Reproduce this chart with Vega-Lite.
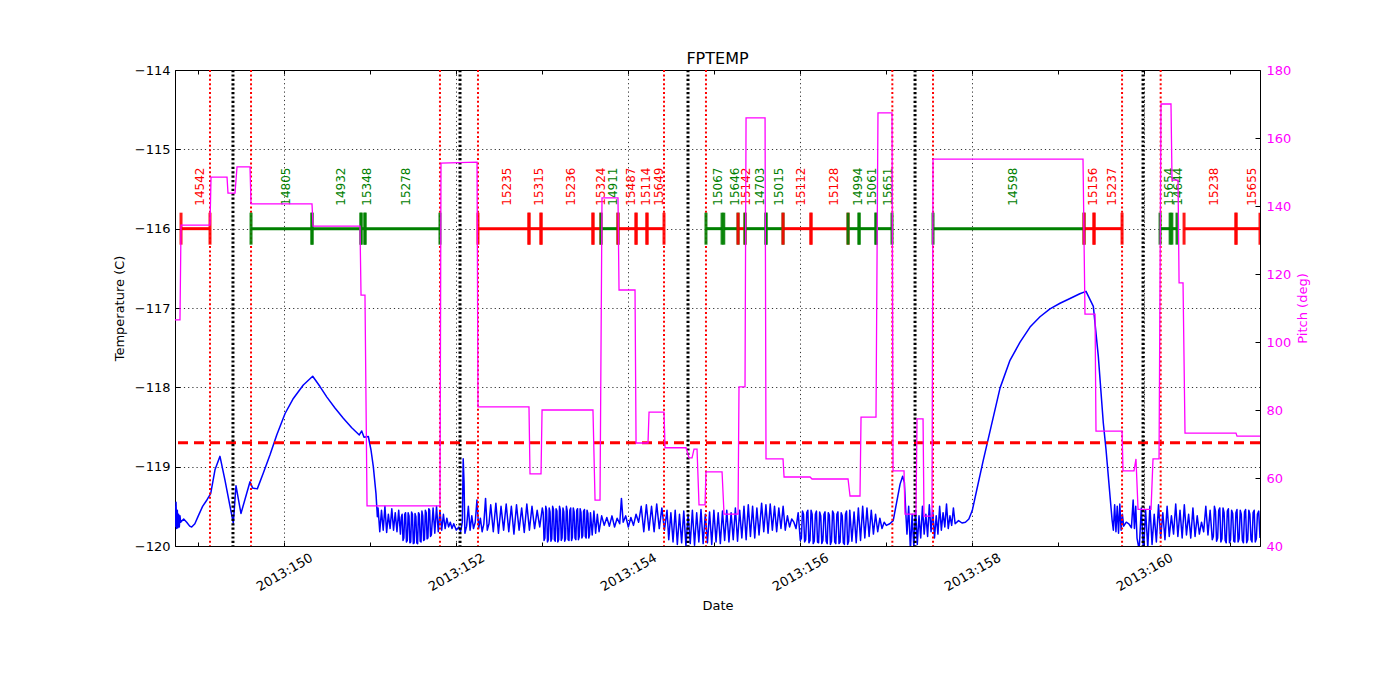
{
  "$schema": "https://vega.github.io/schema/vega-lite/v6.json",
  "width": 1085,
  "height": 476,
  "autosize": {"type": "none"},
  "padding": {"left": 175, "top": 70, "right": 140, "bottom": 154},
  "background": "white",
  "title": {"text": "FPTEMP", "fontSize": 16, "font": "DejaVu Sans", "fontWeight": "normal", "baseline": "alphabetic", "offset": -16, "color": "black"},
  "datasets": {
    "temp": [
      {"t":148.729,"v":-119.50},{"t":148.735,"v":-119.75},{"t":148.741,"v":-119.45},{"t":148.748,"v":-119.78},{"t":148.756,"v":-119.55},{"t":148.763,"v":-119.77},{"t":148.771,"v":-119.60},{"t":148.779,"v":-119.76},{"t":148.787,"v":-119.62},{"t":148.795,"v":-119.70},{"t":148.83,"v":-119.66},{"t":148.865,"v":-119.70},{"t":148.90,"v":-119.75},{"t":148.923,"v":-119.76},{"t":148.96,"v":-119.72},{"t":149.00,"v":-119.62},{"t":149.05,"v":-119.50},{"t":149.10,"v":-119.42},{"t":149.144,"v":-119.34},{"t":149.194,"v":-119.04},{"t":149.252,"v":-118.87},{"t":149.31,"v":-119.17},{"t":149.369,"v":-119.50},{"t":149.407,"v":-119.71},{"t":149.438,"v":-119.24},{"t":149.496,"v":-119.59},{"t":149.601,"v":-119.19},{"t":149.632,"v":-119.27},{"t":149.686,"v":-119.28},{"t":149.756,"v":-119.08},{"t":149.834,"v":-118.85},{"t":149.912,"v":-118.60},{"t":150.009,"v":-118.33},{"t":150.105,"v":-118.14},{"t":150.221,"v":-117.97},{"t":150.33,"v":-117.86},{"t":150.415,"v":-117.99},{"t":150.493,"v":-118.12},{"t":150.589,"v":-118.26},{"t":150.686,"v":-118.39},{"t":150.784,"v":-118.51},{"t":150.872,"v":-118.60},{"t":150.90,"v":-118.55},{"t":150.927,"v":-118.63},{"t":150.977,"v":-118.62},{"t":151.008,"v":-118.79},{"t":151.035,"v":-119.00},{"t":151.066,"v":-119.34},{"t":151.082,"v":-119.63},
      {"t":151.09,"v":-119.52},{"t":151.11,"v":-119.82},{"t":151.13,"v":-119.55},{"t":151.15,"v":-119.80},{"t":151.17,"v":-119.50},{"t":151.19,"v":-119.83},{"t":151.21,"v":-119.60},{"t":151.23,"v":-119.78},{"t":151.25,"v":-119.53},{"t":151.27,"v":-119.80},{"t":151.29,"v":-119.58},{"t":151.31,"v":-119.82},{"t":151.33,"v":-119.55},{"t":151.35,"v":-119.85},{"t":151.36,"v":-119.64},{"t":151.37,"v":-119.60},{"t":151.38,"v":-119.93},{"t":151.39,"v":-119.90},{"t":151.40,"v":-119.60},{"t":151.41,"v":-119.58},{"t":151.42,"v":-119.95},{"t":151.43,"v":-119.93},{"t":151.44,"v":-119.58},{"t":151.45,"v":-119.62},{"t":151.46,"v":-119.96},{"t":151.47,"v":-119.95},{"t":151.48,"v":-119.57},{"t":151.49,"v":-119.60},{"t":151.50,"v":-119.97},{"t":151.51,"v":-119.96},{"t":151.52,"v":-119.59},{"t":151.53,"v":-119.63},{"t":151.54,"v":-119.96},{"t":151.55,"v":-119.97},{"t":151.56,"v":-119.58},{"t":151.57,"v":-119.60},{"t":151.58,"v":-119.94},{"t":151.59,"v":-119.95},{"t":151.60,"v":-119.56},{"t":151.61,"v":-119.62},{"t":151.62,"v":-119.93},{"t":151.63,"v":-119.92},{"t":151.64,"v":-119.55},{"t":151.65,"v":-119.58},{"t":151.66,"v":-119.91},{"t":151.67,"v":-119.90},{"t":151.68,"v":-119.53},{"t":151.69,"v":-119.55},{"t":151.70,"v":-119.88},{"t":151.71,"v":-119.86},{"t":151.73,"v":-119.52},{"t":151.75,"v":-119.84},{"t":151.77,"v":-119.50},{"t":151.79,"v":-119.82},{"t":151.81,"v":-119.55},{"t":151.83,"v":-119.80},{"t":151.85,"v":-119.60},{"t":151.87,"v":-119.78},{"t":151.89,"v":-119.65},{"t":151.91,"v":-119.76},{"t":151.93,"v":-119.70},{"t":151.95,"v":-119.78},{"t":151.97,"v":-119.72},{"t":152.00,"v":-119.80},{"t":152.03,"v":-119.76},{"t":152.05,"v":-119.82},{"t":152.07,"v":-119.70},{"t":152.08,"v":-118.90},{"t":152.09,"v":-119.20},{"t":152.10,"v":-119.84},{"t":152.12,"v":-119.75},{"t":152.14,"v":-119.50},{"t":152.16,"v":-119.80},{"t":152.18,"v":-119.62},{"t":152.20,"v":-119.78},{"t":152.22,"v":-119.70},{"t":152.24,"v":-119.42},{"t":152.26,"v":-119.78},{"t":152.28,"v":-119.65},{"t":152.30,"v":-119.82},{"t":152.32,"v":-119.72},{"t":152.34,"v":-119.40},{"t":152.36,"v":-119.80},{"t":152.38,"v":-119.72},
      {"t":152.40,"v":-119.48},{"t":152.43,"v":-119.82},{"t":152.46,"v":-119.46},{"t":152.49,"v":-119.84},{"t":152.52,"v":-119.50},{"t":152.55,"v":-119.80},{"t":152.58,"v":-119.47},{"t":152.61,"v":-119.82},{"t":152.64,"v":-119.50},{"t":152.67,"v":-119.85},{"t":152.70,"v":-119.48},{"t":152.73,"v":-119.80},{"t":152.76,"v":-119.52},{"t":152.79,"v":-119.83},{"t":152.82,"v":-119.47},{"t":152.85,"v":-119.80},{"t":152.88,"v":-119.50},{"t":152.91,"v":-119.78},{"t":152.94,"v":-119.55},{"t":152.97,"v":-119.76},
      {"t":153.00,"v":-119.52},{"t":153.01,"v":-119.58},{"t":153.02,"v":-119.93},{"t":153.03,"v":-119.90},{"t":153.04,"v":-119.50},{"t":153.05,"v":-119.55},{"t":153.06,"v":-119.95},{"t":153.07,"v":-119.92},{"t":153.08,"v":-119.52},{"t":153.09,"v":-119.57},{"t":153.10,"v":-119.94},{"t":153.11,"v":-119.91},{"t":153.12,"v":-119.50},{"t":153.13,"v":-119.54},{"t":153.14,"v":-119.92},{"t":153.15,"v":-119.94},{"t":153.16,"v":-119.53},{"t":153.17,"v":-119.56},{"t":153.18,"v":-119.95},{"t":153.19,"v":-119.92},{"t":153.20,"v":-119.50},{"t":153.21,"v":-119.55},{"t":153.22,"v":-119.93},{"t":153.23,"v":-119.90},{"t":153.24,"v":-119.52},{"t":153.25,"v":-119.57},{"t":153.26,"v":-119.94},{"t":153.27,"v":-119.91},{"t":153.28,"v":-119.50},{"t":153.29,"v":-119.56},{"t":153.30,"v":-119.92},{"t":153.31,"v":-119.93},{"t":153.32,"v":-119.55},{"t":153.33,"v":-119.52},{"t":153.34,"v":-119.93},{"t":153.35,"v":-119.89},{"t":153.36,"v":-119.52},{"t":153.37,"v":-119.57},{"t":153.38,"v":-119.90},{"t":153.39,"v":-119.92},{"t":153.40,"v":-119.55},{"t":153.41,"v":-119.53},{"t":153.42,"v":-119.92},{"t":153.43,"v":-119.88},{"t":153.44,"v":-119.53},{"t":153.45,"v":-119.58},{"t":153.46,"v":-119.90},{"t":153.47,"v":-119.87},{"t":153.48,"v":-119.56},{"t":153.49,"v":-119.54},{"t":153.50,"v":-119.88},{"t":153.51,"v":-119.90},{"t":153.52,"v":-119.55},{"t":153.53,"v":-119.59},{"t":153.54,"v":-119.90},{"t":153.55,"v":-119.86},{"t":153.56,"v":-119.58},{"t":153.58,"v":-119.86},{"t":153.60,"v":-119.56},{"t":153.62,"v":-119.84},{"t":153.64,"v":-119.60},{"t":153.66,"v":-119.82},
      {"t":153.69,"v":-119.62},{"t":153.72,"v":-119.74},{"t":153.75,"v":-119.64},{"t":153.78,"v":-119.75},{"t":153.81,"v":-119.62},{"t":153.84,"v":-119.76},{"t":153.87,"v":-119.65},{"t":153.90,"v":-119.72},{"t":153.92,"v":-119.40},{"t":153.94,"v":-119.70},{"t":153.97,"v":-119.62},{"t":154.00,"v":-119.76},{"t":154.03,"v":-119.64},{"t":154.06,"v":-119.74},{"t":154.09,"v":-119.60},{"t":154.12,"v":-119.70},
      {"t":154.15,"v":-119.50},{"t":154.18,"v":-119.82},{"t":154.21,"v":-119.48},{"t":154.24,"v":-119.80},{"t":154.27,"v":-119.50},{"t":154.30,"v":-119.82},{"t":154.33,"v":-119.47},{"t":154.36,"v":-119.78},{"t":154.39,"v":-119.52},{"t":154.42,"v":-119.80},{"t":154.45,"v":-119.55},
      {"t":154.47,"v":-119.92},{"t":154.495,"v":-119.58},{"t":154.52,"v":-119.95},{"t":154.545,"v":-119.55},{"t":154.57,"v":-119.98},{"t":154.595,"v":-119.60},{"t":154.62,"v":-119.96},{"t":154.645,"v":-119.56},{"t":154.67,"v":-120.00},{"t":154.695,"v":-119.60},{"t":154.72,"v":-119.97},{"t":154.745,"v":-119.55},{"t":154.77,"v":-119.99},{"t":154.795,"v":-119.58},{"t":154.82,"v":-119.95},{"t":154.845,"v":-119.54},{"t":154.87,"v":-119.97},{"t":154.895,"v":-119.60},{"t":154.92,"v":-119.96},{"t":154.945,"v":-119.57},{"t":154.97,"v":-119.98},{"t":154.995,"v":-119.55},{"t":155.02,"v":-119.95},{"t":155.045,"v":-119.58},{"t":155.07,"v":-119.97},{"t":155.095,"v":-119.56},{"t":155.12,"v":-119.93},{"t":155.145,"v":-119.55},{"t":155.17,"v":-119.95},{"t":155.195,"v":-119.58},{"t":155.22,"v":-119.92},{"t":155.245,"v":-119.52},{"t":155.27,"v":-119.94},{"t":155.295,"v":-119.55},{"t":155.32,"v":-119.90},{"t":155.345,"v":-119.50},{"t":155.37,"v":-119.92},{"t":155.395,"v":-119.48},{"t":155.42,"v":-119.88},{"t":155.445,"v":-119.50},{"t":155.47,"v":-119.90},{"t":155.495,"v":-119.52},{"t":155.52,"v":-119.86},
      {"t":155.55,"v":-119.46},{"t":155.575,"v":-119.82},{"t":155.60,"v":-119.48},{"t":155.625,"v":-119.84},{"t":155.65,"v":-119.47},{"t":155.675,"v":-119.80},{"t":155.70,"v":-119.50},{"t":155.725,"v":-119.82},{"t":155.75,"v":-119.52},{"t":155.775,"v":-119.78},{"t":155.80,"v":-119.50},{"t":155.825,"v":-119.80},{"t":155.85,"v":-119.62},{"t":155.875,"v":-119.76},{"t":155.90,"v":-119.66},{"t":155.925,"v":-119.70},{"t":155.95,"v":-119.78},
      {"t":155.975,"v":-119.58},{"t":156.00,"v":-119.93},{"t":156.0125,"v":-119.90},{"t":156.025,"v":-119.56},{"t":156.0375,"v":-119.60},{"t":156.05,"v":-119.95},{"t":156.0625,"v":-119.92},{"t":156.075,"v":-119.58},{"t":156.0875,"v":-119.55},{"t":156.10,"v":-119.96},{"t":156.1125,"v":-119.93},{"t":156.125,"v":-119.55},{"t":156.1375,"v":-119.60},{"t":156.15,"v":-119.97},{"t":156.1625,"v":-119.94},{"t":156.175,"v":-119.60},{"t":156.1875,"v":-119.56},{"t":156.20,"v":-119.95},{"t":156.2125,"v":-119.96},{"t":156.225,"v":-119.57},{"t":156.2375,"v":-119.62},{"t":156.25,"v":-119.97},{"t":156.2625,"v":-119.93},{"t":156.275,"v":-119.60},{"t":156.2875,"v":-119.57},{"t":156.30,"v":-119.94},{"t":156.3125,"v":-119.97},{"t":156.325,"v":-119.58},{"t":156.3375,"v":-119.61},{"t":156.35,"v":-119.98},{"t":156.3625,"v":-119.94},{"t":156.375,"v":-119.56},{"t":156.3875,"v":-119.59},{"t":156.40,"v":-119.95},{"t":156.4125,"v":-119.97},{"t":156.425,"v":-119.60},{"t":156.4375,"v":-119.57},{"t":156.45,"v":-119.97},{"t":156.4625,"v":-119.95},{"t":156.475,"v":-119.58},{"t":156.4875,"v":-119.62},{"t":156.50,"v":-119.96},{"t":156.5125,"v":-119.98},{"t":156.525,"v":-119.60},{"t":156.5375,"v":-119.56},{"t":156.55,"v":-119.98},{"t":156.5625,"v":-119.94},{"t":156.575,"v":-119.55},{"t":156.60,"v":-119.94},{"t":156.625,"v":-119.57},{"t":156.65,"v":-119.96},{"t":156.675,"v":-119.52},{"t":156.70,"v":-119.93},{"t":156.725,"v":-119.50},{"t":156.75,"v":-119.90},{"t":156.775,"v":-119.52},{"t":156.80,"v":-119.88},{"t":156.825,"v":-119.55},{"t":156.85,"v":-119.85},{"t":156.875,"v":-119.60},{"t":156.90,"v":-119.82},{"t":156.925,"v":-119.65},{"t":156.95,"v":-119.78},{"t":156.975,"v":-119.70},
      {"t":157.00,"v":-119.74},{"t":157.04,"v":-119.72},{"t":157.08,"v":-119.68},{"t":157.12,"v":-119.45},{"t":157.16,"v":-119.22},{"t":157.19,"v":-119.12},{"t":157.21,"v":-119.20},{"t":157.23,"v":-119.65},{"t":157.24,"v":-119.85},
      {"t":157.26,"v":-119.50},{"t":157.28,"v":-120.05},{"t":157.30,"v":-119.60},{"t":157.32,"v":-120.02},{"t":157.34,"v":-119.55},{"t":157.36,"v":-119.98},{"t":157.38,"v":-119.62},{"t":157.40,"v":-119.90},{"t":157.42,"v":-119.50},{"t":157.44,"v":-119.85},{"t":157.46,"v":-119.60},{"t":157.48,"v":-119.88},{"t":157.50,"v":-119.48},{"t":157.52,"v":-119.82},{"t":157.54,"v":-119.55},{"t":157.56,"v":-119.90},{"t":157.58,"v":-119.62},{"t":157.60,"v":-119.85},{"t":157.62,"v":-119.50},{"t":157.64,"v":-119.80},{"t":157.66,"v":-119.58},{"t":157.68,"v":-119.76},{"t":157.70,"v":-119.47},{"t":157.72,"v":-119.78},{"t":157.74,"v":-119.62},{"t":157.76,"v":-119.74},{"t":157.78,"v":-119.52},{"t":157.80,"v":-119.72},
      {"t":157.84,"v":-119.68},{"t":157.88,"v":-119.71},{"t":157.92,"v":-119.70},{"t":157.96,"v":-119.66},{"t":158.00,"v":-119.55},{"t":158.05,"v":-119.30},{"t":158.127,"v":-118.92},{"t":158.20,"v":-118.58},{"t":158.322,"v":-118.01},{"t":158.438,"v":-117.66},{"t":158.555,"v":-117.43},{"t":158.671,"v":-117.24},{"t":158.787,"v":-117.11},{"t":158.903,"v":-117.01},{"t":159.02,"v":-116.94},{"t":159.136,"v":-116.88},{"t":159.25,"v":-116.82},{"t":159.322,"v":-116.79},{"t":159.407,"v":-116.98},{"t":159.465,"v":-117.61},{"t":159.523,"v":-118.45},{"t":159.555,"v":-118.79},{"t":159.625,"v":-119.67},
      {"t":159.64,"v":-119.80},{"t":159.655,"v":-119.48},{"t":159.67,"v":-119.82},{"t":159.685,"v":-119.50},{"t":159.70,"v":-119.84},{"t":159.715,"v":-119.47},{"t":159.73,"v":-119.80},{"t":159.745,"v":-119.60},{"t":159.76,"v":-119.75},{"t":159.79,"v":-119.70},{"t":159.82,"v":-119.72},{"t":159.85,"v":-119.77},{"t":159.87,"v":-119.42},{"t":159.885,"v":-119.78},{"t":159.90,"v":-119.50},{"t":159.915,"v":-119.90},
      {"t":159.94,"v":-120.05},{"t":159.965,"v":-119.52},{"t":159.99,"v":-120.08},{"t":160.015,"v":-119.55},{"t":160.04,"v":-120.02},{"t":160.065,"v":-119.50},{"t":160.09,"v":-119.98},{"t":160.115,"v":-119.60},{"t":160.14,"v":-119.95},{"t":160.165,"v":-119.48},{"t":160.19,"v":-119.90},{"t":160.215,"v":-119.58},{"t":160.24,"v":-119.92},{"t":160.265,"v":-119.50},{"t":160.29,"v":-119.88},{"t":160.315,"v":-119.62},{"t":160.34,"v":-119.85},{"t":160.365,"v":-119.47},{"t":160.39,"v":-119.88},{"t":160.415,"v":-119.55},{"t":160.44,"v":-119.90},{"t":160.465,"v":-119.48},{"t":160.49,"v":-119.86},{"t":160.515,"v":-119.60},{"t":160.54,"v":-119.90},{"t":160.565,"v":-119.52},{"t":160.59,"v":-119.88},{"t":160.615,"v":-119.62},{"t":160.64,"v":-119.85},{"t":160.665,"v":-119.70},{"t":160.69,"v":-119.82},{"t":160.715,"v":-119.50},{"t":160.74,"v":-119.86},{"t":160.765,"v":-119.55},{"t":160.79,"v":-119.92},{"t":160.8025,"v":-119.88},{"t":160.815,"v":-119.50},{"t":160.8275,"v":-119.56},{"t":160.84,"v":-119.94},{"t":160.8525,"v":-119.90},{"t":160.865,"v":-119.55},{"t":160.8775,"v":-119.52},{"t":160.89,"v":-119.95},{"t":160.9025,"v":-119.91},{"t":160.915,"v":-119.52},{"t":160.9275,"v":-119.58},{"t":160.94,"v":-119.93},{"t":160.9525,"v":-119.96},{"t":160.965,"v":-119.56},{"t":160.9775,"v":-119.53},{"t":160.99,"v":-119.96},{"t":161.0025,"v":-119.92},{"t":161.015,"v":-119.55},{"t":161.0275,"v":-119.59},{"t":161.04,"v":-119.94},{"t":161.0525,"v":-119.95},{"t":161.065,"v":-119.58},{"t":161.0775,"v":-119.54},{"t":161.09,"v":-119.95},{"t":161.1025,"v":-119.91},{"t":161.115,"v":-119.55},{"t":161.1275,"v":-119.60},{"t":161.14,"v":-119.93},{"t":161.1525,"v":-119.96},{"t":161.165,"v":-119.57},{"t":161.1775,"v":-119.54},{"t":161.19,"v":-119.96},{"t":161.2025,"v":-119.92},{"t":161.215,"v":-119.55},{"t":161.2275,"v":-119.60},{"t":161.24,"v":-119.92},{"t":161.2525,"v":-119.95},{"t":161.265,"v":-119.58},{"t":161.2775,"v":-119.55},{"t":161.29,"v":-119.95},{"t":161.3025,"v":-119.91},{"t":161.315,"v":-119.60},{"t":161.33,"v":-119.56},{"t":161.345,"v":-119.90}
    ],
    "pitch": [
      {"t":148.729,"p":106.5},{"t":148.787,"p":106.5},{"t":148.799,"p":134.4},{"t":149.136,"p":134.4},{"t":149.148,"p":148.5},{"t":149.334,"p":148.5},{"t":149.345,"p":143.8},{"t":149.427,"p":143.8},{"t":149.45,"p":151.5},{"t":149.601,"p":151.5},{"t":149.613,"p":140.6},{"t":150.322,"p":140.6},{"t":150.334,"p":134.1},{"t":150.88,"p":134.1},{"t":150.892,"p":113.8},{"t":150.938,"p":113.8},{"t":150.962,"p":51.8},{"t":151.81,"p":51.8},{"t":151.822,"p":152.6},{"t":152.241,"p":152.9},{"t":152.252,"p":80.9},{"t":152.845,"p":80.9},{"t":152.857,"p":61.2},{"t":152.985,"p":61.2},{"t":152.997,"p":80.0},{"t":153.589,"p":80.0},{"t":153.613,"p":53.5},{"t":153.671,"p":53.5},{"t":153.694,"p":142.4},{"t":153.88,"p":142.4},{"t":153.892,"p":115.3},{"t":154.078,"p":115.3},{"t":154.09,"p":70.3},{"t":154.229,"p":70.3},{"t":154.241,"p":79.4},{"t":154.415,"p":79.4},{"t":154.427,"p":68.9},{"t":154.671,"p":68.9},{"t":154.706,"p":65.9},{"t":154.741,"p":65.9},{"t":154.764,"p":68.5},{"t":154.799,"p":68.5},{"t":154.822,"p":52.1},{"t":154.892,"p":52.1},{"t":154.903,"p":61.8},{"t":155.09,"p":61.8},{"t":155.113,"p":49.4},{"t":155.276,"p":49.4},{"t":155.287,"p":86.8},{"t":155.357,"p":86.8},{"t":155.369,"p":165.9},{"t":155.59,"p":165.9},{"t":155.601,"p":65.6},{"t":155.799,"p":65.6},{"t":155.811,"p":60.3},{"t":156.113,"p":60.3},{"t":156.136,"p":59.7},{"t":156.555,"p":59.7},{"t":156.578,"p":54.7},{"t":156.694,"p":54.7},{"t":156.706,"p":77.9},{"t":156.88,"p":77.9},{"t":156.903,"p":167.4},{"t":157.066,"p":167.4},{"t":157.078,"p":62.1},{"t":157.206,"p":62.1},{"t":157.217,"p":49.4},{"t":157.345,"p":49.4},{"t":157.357,"p":77.4},{"t":157.427,"p":77.4},{"t":157.438,"p":48.8},{"t":157.531,"p":48.8},{"t":157.543,"p":153.8},{"t":159.287,"p":153.8},{"t":159.31,"p":108.2},{"t":159.427,"p":108.2},{"t":159.438,"p":73.8},{"t":159.741,"p":73.8},{"t":159.752,"p":62.1},{"t":159.88,"p":62.1},{"t":159.903,"p":65.6},{"t":159.927,"p":50.8},{"t":160.078,"p":50.8},{"t":160.101,"p":65.6},{"t":160.171,"p":65.6},{"t":160.194,"p":170.0},{"t":160.31,"p":170.0},{"t":160.322,"p":147.6},{"t":160.392,"p":147.6},{"t":160.404,"p":117.4},{"t":160.45,"p":117.4},{"t":160.473,"p":73.2},{"t":161.066,"p":73.2},{"t":161.078,"p":72.3},{"t":161.345,"p":72.3}
    ],
    "limit": [{"v": -118.7}],
    "vlines": [
      {"t":149.136,"kind":"red"},{"t":149.613,"kind":"red"},{"t":151.81,"kind":"red"},{"t":152.252,"kind":"red"},{"t":154.415,"kind":"red"},{"t":154.903,"kind":"red"},{"t":157.07,"kind":"red"},{"t":157.543,"kind":"red"},{"t":159.741,"kind":"red"},{"t":160.19,"kind":"red"},
      {"t":149.403,"kind":"black"},{"t":152.043,"kind":"black"},{"t":154.694,"kind":"black"},{"t":157.334,"kind":"black"},{"t":159.985,"kind":"black"}
    ],
    "obs": [
      {"obsid":"14542","start":148.799,"stop":149.136,"grp":"R"},
      {"obsid":"14805","start":149.613,"stop":150.322,"grp":"G"},
      {"obsid":"14932","start":150.322,"stop":150.892,"grp":"G"},
      {"obsid":"15348","start":150.892,"stop":150.938,"grp":"G"},
      {"obsid":"15278","start":150.938,"stop":151.81,"grp":"G"},
      {"obsid":"15235","start":152.252,"stop":152.845,"grp":"R"},
      {"obsid":"15315","start":152.845,"stop":152.985,"grp":"R"},
      {"obsid":"15236","start":152.985,"stop":153.589,"grp":"R"},
      {"obsid":"15324","start":153.589,"stop":153.682,"grp":"R"},
      {"obsid":"14911","start":153.682,"stop":153.88,"grp":"G"},
      {"obsid":"15487","start":153.88,"stop":154.09,"grp":"R"},
      {"obsid":"15114","start":154.09,"stop":154.217,"grp":"R"},
      {"obsid":"15649","start":154.217,"stop":154.415,"grp":"R"},
      {"obsid":"15067","start":154.903,"stop":155.09,"grp":"G"},
      {"obsid":"15646","start":155.11,"stop":155.276,"grp":"G"},
      {"obsid":"15142","start":155.276,"stop":155.357,"grp":"R"},
      {"obsid":"14703","start":155.357,"stop":155.601,"grp":"G"},
      {"obsid":"15015","start":155.601,"stop":155.799,"grp":"G"},
      {"obsid":"15112","start":155.799,"stop":156.124,"grp":"R"},
      {"obsid":"15128","start":156.124,"stop":156.555,"grp":"R"},
      {"obsid":"14994","start":156.555,"stop":156.683,"grp":"G"},
      {"obsid":"15061","start":156.683,"stop":156.88,"grp":"G"},
      {"obsid":"15651","start":156.88,"stop":157.066,"grp":"G"},
      {"obsid":"14598","start":157.543,"stop":159.299,"grp":"G"},
      {"obsid":"15156","start":159.299,"stop":159.415,"grp":"R"},
      {"obsid":"15237","start":159.415,"stop":159.741,"grp":"R"},
      {"obsid":"15654","start":160.183,"stop":160.3,"grp":"G"},
      {"obsid":"14644","start":160.32,"stop":160.38,"grp":"G"},
      {"obsid":"15238","start":160.462,"stop":161.066,"grp":"R"},
      {"obsid":"15655","start":161.066,"stop":161.345,"grp":"R"}
    ]
  },
  "layer": [
    {
      "data": {"name": "temp"},
      "mark": {"type": "line", "color": "#0000ff", "strokeWidth": 1.5, "strokeJoin": "round", "clip": true},
      "encoding": {
        "x": {
          "field": "t", "type": "quantitative",
          "scale": {"domain": [148.729, 161.345], "nice": false, "zero": false},
          "axis": {
            "orient": "bottom", "title": "Date", "titlePadding": 6,
            "values": [149,150,151,152,153,154,155,156,157,158,159,160,161],
            "labelExpr": "datum.value % 2 == 0 ? '2013:' + datum.value : ''",
            "labelAngle": -30, "labelAlign": "center", "labelBaseline": "middle", "labelPadding": 30, "labelOverlap": false, "labelFlush": false,
            "tickSize": -4,
            "grid": true, "gridColor": "black", "gridDash": [1.2, 3], "gridWidth": 0.8,
            "gridOpacity": {"condition": {"test": "datum.value % 2 == 0", "value": 1}, "value": 0}
          }
        },
        "y": {
          "field": "v", "type": "quantitative",
          "scale": {"domain": [-120, -114], "nice": false, "zero": false},
          "axis": {
            "orient": "left", "title": "Temperature (C)", "titlePadding": 8,
            "values": [-120,-119,-118,-117,-116,-115,-114],
            "tickSize": -5, "labelPadding": 10,
            "grid": true, "gridColor": "black", "gridDash": [1.2, 3], "gridWidth": 0.8
          }
        }
      }
    },
    {
      "data": {"name": "limit"},
      "mark": {"type": "rule", "color": "#ff0000", "strokeWidth": 3, "strokeDash": [10, 6]},
      "encoding": {
        "y": {"field": "v", "type": "quantitative", "scale": {"domain": [-120, -114], "nice": false, "zero": false}, "axis": null}
      }
    },
    {
      "data": {"name": "vlines"},
      "transform": [{"filter": "datum.kind == 'red'"}],
      "mark": {"type": "rule", "color": "#ff0000", "strokeWidth": 2, "strokeDash": [2, 2.4]},
      "encoding": {
        "x": {
          "field": "t", "type": "quantitative",
          "scale": {"domain": [148.729, 161.345], "nice": false, "zero": false},
          "axis": {"orient": "top", "title": null, "labels": false, "grid": false, "tickSize": -4,
                   "values": [149,150,151,152,153,154,155,156,157,158,159,160,161]}
        }
      }
    },
    {
      "data": {"name": "vlines"},
      "transform": [{"filter": "datum.kind == 'black'"}],
      "mark": {"type": "rule", "color": "#000000", "strokeWidth": 3, "strokeDash": [2.2, 2.2]},
      "encoding": {
        "x": {"field": "t", "type": "quantitative", "scale": {"domain": [148.729, 161.345], "nice": false, "zero": false}, "axis": null}
      }
    },
    {
      "data": {"name": "obs"},
      "mark": {"type": "rule", "strokeWidth": 3, "clip": true},
      "encoding": {
        "x": {"field": "start", "type": "quantitative", "scale": {"domain": [148.729, 161.345], "nice": false, "zero": false}, "axis": null},
        "x2": {"field": "stop"},
        "y": {"datum": -116, "type": "quantitative", "scale": {"domain": [-120, -114], "nice": false, "zero": false}, "axis": null},
        "color": {"field": "grp", "type": "nominal", "scale": {"domain": ["R", "G"], "range": ["#ff0000", "#008000"]}, "legend": null}
      }
    },
    {
      "data": {"name": "obs"},
      "transform": [{"fold": ["start", "stop"], "as": ["end", "t"]}],
      "mark": {"type": "tick", "orient": "vertical", "size": 32, "thickness": 3, "opacity": 0.9, "clip": true},
      "encoding": {
        "x": {"field": "t", "type": "quantitative", "scale": {"domain": [148.729, 161.345], "nice": false, "zero": false}, "axis": null},
        "y": {"datum": -116, "type": "quantitative", "scale": {"domain": [-120, -114], "nice": false, "zero": false}, "axis": null},
        "color": {"field": "grp", "type": "nominal", "scale": {"domain": ["R", "G"], "range": ["#ff0000", "#008000"]}, "legend": null}
      }
    },
    {
      "data": {"name": "obs"},
      "transform": [{"calculate": "(datum.start + datum.stop) / 2", "as": "mid"}],
      "mark": {"type": "text", "angle": 270, "align": "left", "baseline": "middle", "dx": 23, "dy": 4, "fontSize": 12, "font": "DejaVu Sans"},
      "encoding": {
        "x": {"field": "mid", "type": "quantitative", "scale": {"domain": [148.729, 161.345], "nice": false, "zero": false}, "axis": null},
        "y": {"datum": -116, "type": "quantitative", "scale": {"domain": [-120, -114], "nice": false, "zero": false}, "axis": null},
        "text": {"field": "obsid"},
        "color": {"field": "grp", "type": "nominal", "scale": {"domain": ["R", "G"], "range": ["#ff0000", "#008000"]}, "legend": null}
      }
    },
    {
      "data": {"name": "pitch"},
      "mark": {"type": "line", "color": "#ff00ff", "strokeWidth": 1.3, "clip": true},
      "encoding": {
        "x": {"field": "t", "type": "quantitative", "scale": {"domain": [148.729, 161.345], "nice": false, "zero": false}, "axis": null},
        "y": {
          "field": "p", "type": "quantitative",
          "scale": {"domain": [40, 180], "nice": false, "zero": false},
          "axis": {
            "orient": "right", "title": "Pitch (deg)", "titleColor": "#ff00ff", "titleAngle": 270, "titleBaseline": "top", "titlePadding": 6,
            "values": [40,60,80,100,120,140,160,180],
            "labelColor": "#ff00ff", "tickSize": -5, "labelPadding": 11, "grid": false
          }
        }
      }
    }
  ],
  "resolve": {"scale": {"y": "independent"}, "axis": {"x": "independent", "y": "independent"}},
  "config": {
    "font": "DejaVu Sans",
    "view": {"stroke": "black", "strokeWidth": 1},
    "axis": {
      "labelFont": "DejaVu Sans", "titleFont": "DejaVu Sans",
      "labelFontSize": 13, "titleFontSize": 13, "titleFontWeight": "normal",
      "labelColor": "black", "titleColor": "black", "tickColor": "black",
      "domain": false
    }
  }
}
